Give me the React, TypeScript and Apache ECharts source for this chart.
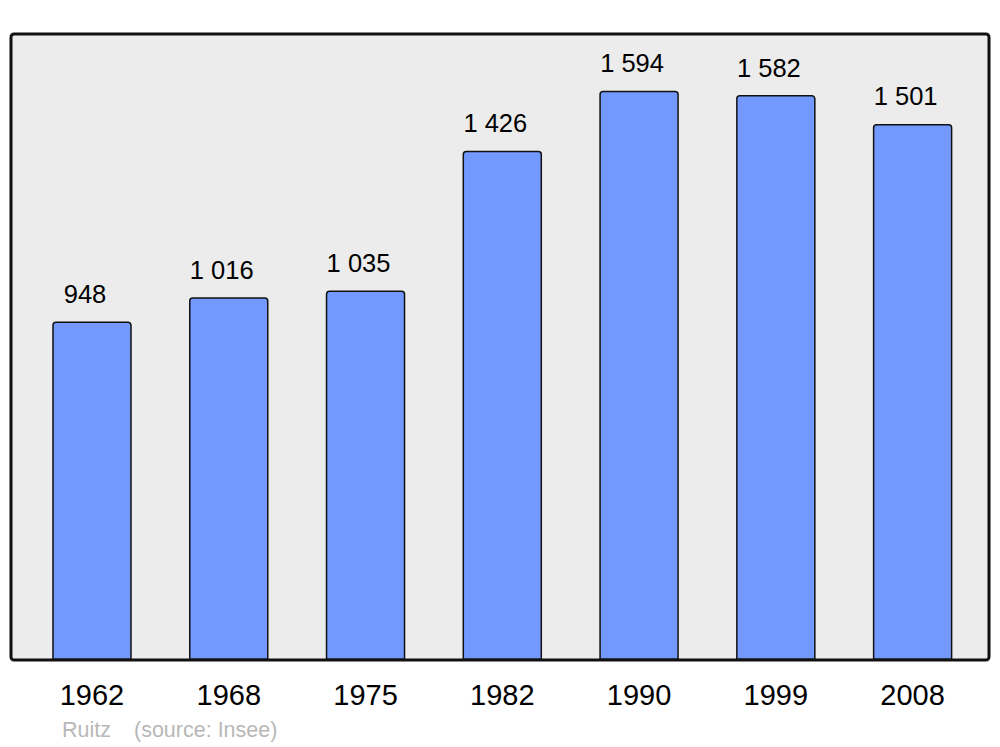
import React, { useEffect, useRef } from "react";
import * as echarts from "echarts";

const years = ["1962", "1968", "1975", "1982", "1990", "1999", "2008"];
const population = [948, 1016, 1035, 1426, 1594, 1582, 1501];
const footerAuthor = "Ruitz";
const footerSource = "(source: Insee)";

function fmt(v: number): string {
  return String(v).replace(/\B(?=(\d{3})+(?!\d))/g, " ");
}

export default function App() {
  const ref = useRef<HTMLDivElement>(null);
  useEffect(() => {
    if (!ref.current) return;
    const chart = echarts.init(ref.current, null, { renderer: "svg" });
    chart.setOption({
      animation: false,
      textStyle: { fontFamily: "Liberation Sans, Arial, sans-serif" },
      grid: { left: 23.6, right: 19, top: 34, bottom: 87, containLabel: false },
      xAxis: {
        type: "category",
        data: years,
        axisLine: { show: false },
        axisTick: { show: false },
        axisLabel: {
          color: "#000",
          fontSize: 29,
          margin: 20,
          fontFamily: "Liberation Sans, Arial, sans-serif",
        },
      },
      yAxis: {
        type: "value",
        min: 0,
        max: 1753,
        show: false,
        splitLine: { show: false },
      },
      graphic: [
        {
          type: "rect",
          z: -10,
          shape: { x: 11, y: 34, width: 978, height: 626, r: 3 },
          style: { fill: "#ececec", stroke: "none" },
        },
        {
          type: "rect",
          z: 100,
          shape: { x: 11, y: 34, width: 978, height: 626, r: 3 },
          style: { fill: "none", stroke: "#111", lineWidth: 3 },
        },
        {
          type: "text",
          x: 62,
          y: 730,
          style: {
            text: footerAuthor,
            fill: "#b8b8b8",
            fontSize: 21.5,
            fontFamily: "Liberation Sans, Arial, sans-serif",
            verticalAlign: "middle",
          },
        },
        {
          type: "text",
          x: 134,
          y: 730,
          style: {
            text: footerSource,
            fill: "#b8b8b8",
            fontSize: 21.5,
            fontFamily: "Liberation Sans, Arial, sans-serif",
            verticalAlign: "middle",
          },
        },
      ],
      series: [
        {
          type: "bar",
          data: population,
          barWidth: 79.5,
          itemStyle: {
            color: "#7399ff",
            borderColor: "#111",
            borderWidth: 1.5,
            borderRadius: [3, 3, 0, 0],
          },
          label: {
            show: true,
            position: "top",
            distance: 14.5,
            offset: [-7, 0],
            color: "#000",
            fontSize: 25.5,
            fontFamily: "Liberation Sans, Arial, sans-serif",
            formatter: (p: any) => fmt(p.value),
          },
        },
      ],
    });
    return () => chart.dispose();
  }, []);
  return (
    <div
      ref={ref}
      style={{ width: 1000, height: 747, position: "absolute", left: 0, top: 0, background: "#fff" }}
    />
  );
}
